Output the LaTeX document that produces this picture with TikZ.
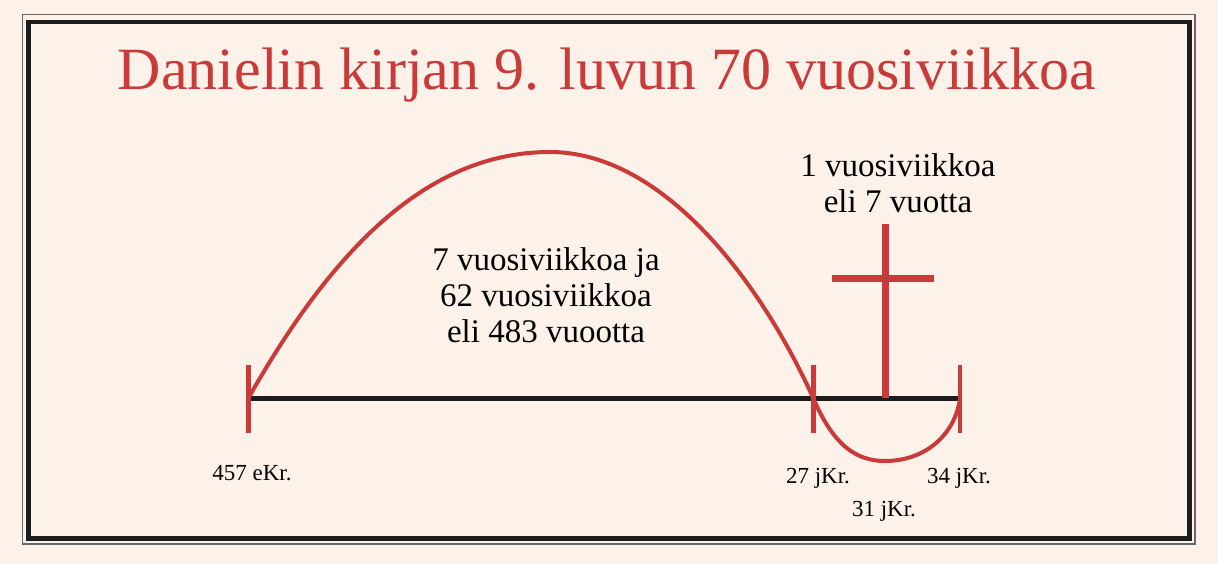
\documentclass[tikz,border=0pt]{standalone}
\usepackage{fontspec}
\setmainfont{Liberation Serif}
\usepackage{tikz}
\usetikzlibrary{positioning}

\definecolor{paper}{HTML}{FCF2EA}
\definecolor{danred}{HTML}{C93A38}
\definecolor{frameline}{HTML}{1C1C1C}

\begin{document}
\begin{tikzpicture}
          [x=1pt, y=-1pt,
           every node/.style={inner sep=0pt, text=black},
           tick/.style={draw=danred, line width=4.5pt},
           arc/.style={draw=danred, line width=4pt},
           crossbar/.style={draw=danred, line width=7pt},
           timeline/.style={draw=frameline, line width=4.5pt},
           year/.style={font=\fontsize{23}{27}\selectfont, anchor=base},
           span/.style={font=\fontsize{33}{36}\selectfont, align=center}]
          \fill[paper] (0,0) rectangle (1218,564);
          \useasboundingbox (0,0) rectangle (1218,564);
          \draw[draw=gray!80!black, line width=1.5pt] (22.5,14.3) rectangle (1195,544);
          \draw[draw=frameline, line width=4.7pt] (28.5,22) rectangle (1189.5,538.3);

          \node (title) [anchor=base, text=danred, font=\fontsize{60}{72}\selectfont] at (607,90)
            {Danielin kirjan 9. luvun 70 vuosiviikkoa};

          \coordinate (start) at (248.3,398.3);
          \coordinate (mid) at (813.3,398.3);
          \coordinate (end) at (960,398.3);
          \coordinate (cross) at (885,398.3);
          \coordinate (crosstop) at (885,224);
          \coordinate (barleft) at (832,278);
          \coordinate (barright) at (934,278);

          \draw[timeline] (start) -- (end);
          \draw[tick] (start) ++(0,-33) -- ++(0,67.5);
          \draw[tick] (mid) ++(0,-33) -- ++(0,67.5);
          \draw[tick] (end) ++(0,-33) -- ++(0,67.5);
          \draw[crossbar] (cross) -- (crosstop);
          \draw[crossbar] (barleft) -- (barright);

          \draw[arc] (start) .. controls (335,245) and (430,152) .. (550,152)
            .. controls (662,152) and (760,280) .. (mid)
            .. controls (833,444) and (855,461) .. (885,461)
            .. controls (925,461) and (955,435) .. (end);

          \node (bigspan) [span] at (546,295)
            {7 vuosiviikkoa ja\\62 vuosiviikkoa\\eli 483 vuootta};
          \node (lastweek) [span] at (898,183)
            {1 vuosiviikkoa\\eli 7 vuotta};

          \node (l457) [year] at (252,480) {457 eKr.};
          \node (l27) [year] at (818,483) {27 jKr.};
          \node (l31) [year] at (884,516) {31 jKr.};
          \node (l34) [year] at (959,483) {34 jKr.};
        \end{tikzpicture}
\end{document}
